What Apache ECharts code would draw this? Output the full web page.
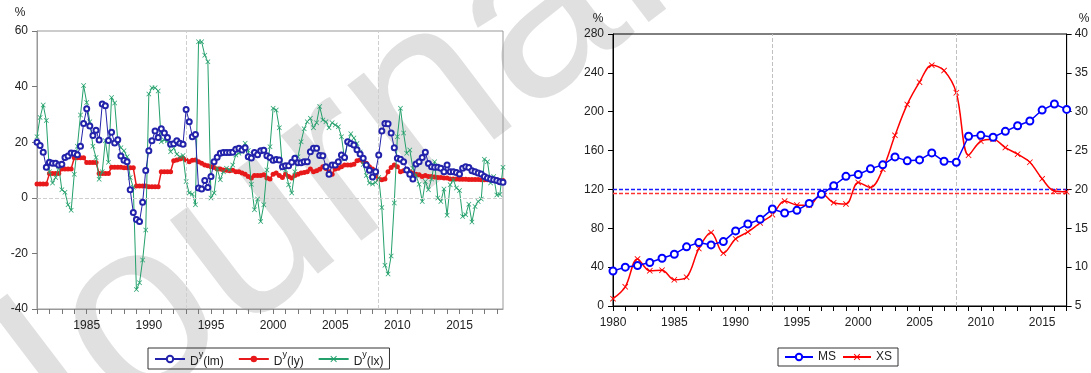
<!DOCTYPE html>
<html><head><meta charset="utf-8">
<script src="https://cdn.jsdelivr.net/npm/echarts@6/dist/echarts.min.js"></script>
<style>html,body{margin:0;padding:0;background:#fff}#c{width:1091px;height:373px}</style>
</head><body><div id="c"></div>
<script>
// ---------- Left panel: quarterly, 1981Q1 .. 2018Q3 ----------
const leftStartYear = 1981;
const leftCount = 151;
const leftTickYears = [1985, 1990, 1995, 2000, 2005, 2010, 2015];
const leftYTicks = [-40, -20, 0, 20, 40, 60];

const dyLm = [20.0,18.8,16.4,11.0,12.8,12.4,12.4,11.8,12.1,14.5,
  15.0,16.1,16.0,15.5,18.5,26.7,32.0,25.8,22.4,24.3,
  20.8,33.7,33.1,20.6,23.6,19.7,20.9,15.0,13.5,13.0,
  2.9,-5.3,-7.8,-8.5,-1.6,9.8,16.9,20.5,24.0,21.7,
  24.8,23.3,21.7,19.3,19.4,20.5,19.6,19.3,31.8,27.4,
  22.0,22.8,3.5,3.2,6.2,3.7,7.7,13.0,14.6,16.0,
  16.3,16.3,16.3,16.4,17.5,17.8,17.2,18.0,14.8,14.3,
  16.3,15.5,16.9,17.1,15.1,14.5,13.5,13.8,13.6,11.2,
  11.5,11.5,12.8,14.2,12.6,12.6,13.0,13.0,16.6,17.8,
  17.8,15.2,15.1,11.2,8.5,11.8,11.8,13.0,15.4,14.5,
  20.2,19.5,19.0,17.3,15.8,14.2,11.8,9.9,7.5,9.4,
  15.4,24.0,26.7,26.6,23.3,18.0,14.2,13.9,13.0,10.0,
  8.5,6.8,12.2,13.0,14.5,16.4,12.3,11.2,11.0,11.0,
  10.6,9.4,11.8,9.4,9.4,9.1,8.6,10.6,11.2,10.9,
  9.7,9.4,8.9,8.6,7.7,7.1,6.8,6.5,6.2,5.8,
  5.6];

const dyLy = [5.0,5.0,5.0,5.0,8.7,8.7,8.7,8.7,10.4,10.4,
  10.4,10.4,14.4,14.4,14.4,14.4,12.7,12.7,12.7,12.7,
  8.7,8.7,8.7,8.7,11.0,11.0,11.0,11.0,10.8,10.8,
  10.8,10.8,4.2,4.2,4.2,4.2,4.0,4.0,4.0,4.0,
  9.4,9.4,9.4,9.4,13.3,13.6,14.0,14.2,13.6,13.0,
  13.5,13.6,13.0,12.4,11.8,11.5,11.2,10.9,10.4,10.4,
  10.0,9.9,9.7,9.9,9.4,9.4,8.9,8.5,7.7,7.1,
  8.0,8.0,8.0,8.3,7.1,6.8,8.5,8.9,8.0,7.3,
  8.5,7.7,7.1,8.0,8.5,8.9,9.1,9.4,10.4,9.4,
  9.7,10.3,11.2,10.5,9.4,8.5,10.4,10.6,11.2,11.8,
  11.8,11.8,12.1,13.3,13.6,13.0,12.4,11.2,10.4,8.0,
  6.8,6.5,6.8,9.4,10.9,11.8,11.2,9.4,9.7,10.0,
  9.4,8.9,8.5,8.3,7.7,8.0,7.7,7.7,7.5,7.3,
  7.3,7.1,7.1,6.8,6.8,6.8,6.7,6.7,6.7,6.6,
  6.6,6.6,6.6,6.5,6.5,6.5,6.4,6.4,6.3,6.2,
  6.2];

const dyLx = [22.0,28.9,33.4,27.8,9.4,5.3,7.3,11.2,2.9,2.0,
  -2.5,-4.5,8.5,18.5,29.8,40.4,34.3,27.4,18.5,14.5,
  6.7,9.4,20.5,12.8,36.1,34.1,20.5,18.0,16.9,14.8,
  7.3,3.8,-33.0,-30.6,-22.4,-11.6,37.3,39.6,39.6,38.4,
  20.2,20.8,20.5,16.6,17.8,15.7,14.8,15.2,5.9,1.7,
  1.4,-2.5,56.1,56.1,51.3,48.9,-0.1,1.7,10.6,6.5,
  9.4,10.6,10.0,11.8,15.4,16.0,16.6,19.6,17.0,4.9,
  -4.3,-0.4,-8.5,-2.5,10.0,18.4,32.2,31.6,25.2,10.6,
  10.0,4.7,1.7,9.4,14.8,20.2,24.8,27.4,28.6,25.2,
  27.0,32.8,28.0,27.4,25.2,27.0,26.2,25.6,22.0,14.0,
  20.0,23.0,21.5,19.5,16.5,12.0,8.0,5.3,5.0,5.5,
  7.3,-3.5,-24.3,-27.4,-20.9,-1.9,22.0,32.2,23.3,16.0,
  17.2,10.6,8.0,4.9,-1.3,5.9,2.9,6.8,13.0,-0.1,
  -1.3,3.2,-6.3,4.7,6.5,3.5,2.6,-6.7,-6.1,-2.3,
  -8.7,-3.1,-1.3,-0.4,13.9,13.0,5.3,7.7,1.0,1.2,
  11.0];

// ---------- Right panel: annual, 1980 .. 2017 ----------
const rightYears = [1980,1981,1982,1983,1984,1985,1986,1987,1988,1989,
  1990,1991,1992,1993,1994,1995,1996,1997,1998,1999,
  2000,2001,2002,2003,2004,2005,2006,2007,2008,2009,
  2010,2011,2012,2013,2014,2015,2016,2017];
const msValues = [36,40,41.7,44.8,49.2,53.3,60.9,65.3,62.9,66.3,
  77.3,84.4,89.2,99.8,95.7,98.5,105.6,115,123.8,133.5,
  135.4,141.2,145.3,153.5,149.4,150.4,157.6,149,148,174.7,
  175.7,173.7,179.8,185.6,190.4,201.7,207.9,202.4];
const xsValues = [5.94,7.47,11.06,9.53,9.61,8.38,8.71,12.39,14.45,11.8,
  13.63,14.53,15.69,16.75,18.5,17.99,17.95,19.49,18.29,18.13,
  20.9,20.25,22.61,26.96,30.94,33.8,35.99,35.3,32.44,24.4,
  26.2,26.45,25.39,24.53,23.5,21.36,19.79,19.7];
const msMean = 120;
const xsMean = 19.5;
const leftAxisTicks = [0,40,80,120,160,200,240,280];
const rightAxisTicks = [5,10,15,20,25,30,35,40];

// quarterly category labels
const leftCats = [];
for (let i = 0; i < leftCount; i++) {
  leftCats.push((leftStartYear + Math.floor(i / 4)) + 'Q' + (i % 4 + 1));
}
const rightCats = rightYears.map(String);
const rFirst = rightCats[0], rLast = rightCats[rightCats.length - 1];
const lFirst = leftCats[0], lLast = leftCats[leftCats.length - 1];

const FONT = '"Liberation Sans", Arial, sans-serif';
const X_SYMBOL = 'path://M0,1L1,0L5,4L9,0L10,1L6,5L10,9L9,10L5,6L1,10L0,9L4,5Z';

const legendNames = {'Dy(lm)': ['D','y','(lm)'], 'Dy(ly)': ['D','y','(ly)'], 'Dy(lx)': ['D','y','(lx)']};

const chart = echarts.init(document.getElementById('c'), null, {renderer: 'canvas'});
chart.setOption({
  animation: false,
  backgroundColor: '#fff',
  textStyle: {fontFamily: FONT},
  graphic: [
    {type: 'text', x: -15, y: 440, rotation: 0.65, z: -10, silent: true,
     style: {text: 'Journal Pre-proof', fontSize: 250, fontFamily: FONT, fill: '#e0e0e0', align: 'left', verticalAlign: 'middle'}},
    {type: 'text', x: 20, y: 13, style: {text: '%', fontSize: 12, fontFamily: FONT, fill: '#222', align: 'center', verticalAlign: 'middle'}},
    {type: 'text', x: 598, y: 19, style: {text: '%', fontSize: 12, fontFamily: FONT, fill: '#222', align: 'center', verticalAlign: 'middle'}},
    {type: 'text', x: 1084, y: 19, style: {text: '%', fontSize: 12, fontFamily: FONT, fill: '#222', align: 'center', verticalAlign: 'middle'}}
  ],
  legend: [
    {
      data: ['Dy(lm)', 'Dy(ly)', 'Dy(lx)'],
      left: 148, top: 348,
      itemWidth: 30, itemHeight: 8, itemGap: 14,
      padding: [2, 6, 1, 6],
      borderColor: '#333', borderWidth: 1, borderRadius: 0,
      formatter: function (n) {
        const p = legendNames[n];
        return '{b|' + p[0] + '}{s|' + p[1] + '}{b|' + p[2] + '}';
      },
      textStyle: {
        color: '#222',
        rich: {
          b: {fontSize: 12, fontFamily: FONT, color: '#222', lineHeight: 18, verticalAlign: 'bottom'},
          s: {fontSize: 9, fontFamily: FONT, color: '#222', lineHeight: 18, verticalAlign: 'top'}
        }
      }
    },
    {
      data: ['MS', 'XS'],
      left: 778, top: 348,
      itemWidth: 28, itemHeight: 8, itemGap: 6,
      padding: [3, 6, 3, 6],
      borderColor: '#333', borderWidth: 1, borderRadius: 0,
      textStyle: {color: '#222', fontSize: 12, fontFamily: FONT}
    }
  ],
  grid: [
    {left: 37, top: 31, width: 466, height: 278, show: true, borderColor: '#999', borderWidth: 1, backgroundColor: 'transparent'},
    {left: 613, top: 34, width: 456, height: 272, show: true, borderColor: '#000', borderWidth: 1, backgroundColor: 'transparent'}
  ],
  xAxis: [
    {
      type: 'category', gridIndex: 0, data: leftCats, boundaryGap: false,
      axisLine: {onZero: false, lineStyle: {color: '#999'}},
      axisTick: {show: true, length: 5, lineStyle: {color: '#777'},
        interval: function (i) { return i % 4 === 0; }},
      axisLabel: {color: '#222', fontSize: 12, margin: 11,
        interval: function (i, v) { return i % 4 === 0 && leftTickYears.indexOf(+v.slice(0, 4)) >= 0; },
        formatter: function (v) { return v.slice(0, 4); }},
      splitLine: {show: false}
    },
    {
      type: 'category', gridIndex: 1, data: rightCats, boundaryGap: false,
      axisLine: {onZero: false, lineStyle: {color: '#000', width: 1}},
      axisTick: {show: true, length: 5, interval: 0, lineStyle: {color: '#000'}},
      axisLabel: {color: '#222', fontSize: 12, margin: 11, interval: 4},
      splitLine: {show: false}
    }
  ],
  yAxis: [
    {
      type: 'value', gridIndex: 0, min: leftYTicks[0], max: leftYTicks[leftYTicks.length - 1], interval: 20,
      axisLine: {show: true, lineStyle: {color: '#999'}},
      axisTick: {show: true, length: 5, lineStyle: {color: '#777'}},
      axisLabel: {color: '#222', fontSize: 12, margin: 9},
      splitLine: {show: false}
    },
    {
      type: 'value', gridIndex: 1, min: leftAxisTicks[0], max: leftAxisTicks[leftAxisTicks.length - 1], interval: 40,
      axisLine: {show: true, lineStyle: {color: '#000'}},
      axisTick: {show: true, length: 5, lineStyle: {color: '#000'}},
      axisLabel: {color: '#222', fontSize: 12, margin: 9},
      splitLine: {show: false}
    },
    {
      type: 'value', gridIndex: 1, position: 'right', min: rightAxisTicks[0], max: rightAxisTicks[rightAxisTicks.length - 1], interval: 5,
      axisLine: {show: true, lineStyle: {color: '#000'}},
      axisTick: {show: true, length: 5, lineStyle: {color: '#000'}},
      axisLabel: {color: '#222', fontSize: 12, margin: 8},
      splitLine: {show: false}
    }
  ],
  series: [
    {
      name: 'Dy(ly)', type: 'line', xAxisIndex: 0, yAxisIndex: 0, data: dyLy, z: 3,
      symbol: 'circle', symbolSize: 5, showSymbol: true, showAllSymbol: true,
      lineStyle: {color: '#e8191a', width: 1.5}, itemStyle: {color: '#e8191a'},
      markLine: {silent: true, symbol: 'none', label: {show: false},
        lineStyle: {color: '#cfcfcf', type: 'dashed', width: 1},
        emphasis: {disabled: true},
        data: [[{coord: [lFirst, 0]}, {coord: [lLast, 0]}], {xAxis: '1993Q1'}, {xAxis: '2008Q3'}]}
    },
    {
      name: 'Dy(lx)', type: 'line', xAxisIndex: 0, yAxisIndex: 0, data: dyLx, z: 4,
      symbol: X_SYMBOL, symbolSize: 5, showSymbol: true, showAllSymbol: true,
      lineStyle: {color: '#23a06b', width: 1}, itemStyle: {color: '#23a06b'}
    },
    {
      name: 'Dy(lm)', type: 'line', xAxisIndex: 0, yAxisIndex: 0, data: dyLm, z: 5,
      symbol: 'emptyCircle', symbolSize: 5, showSymbol: true, showAllSymbol: true,
      lineStyle: {color: '#2222aa', width: 1}, itemStyle: {color: '#2222aa', borderWidth: 1}
    },
    {
      name: 'MS', type: 'line', xAxisIndex: 1, yAxisIndex: 1, data: msValues, z: 5,
      symbol: 'emptyCircle', symbolSize: 7, showSymbol: true, showAllSymbol: true,
      lineStyle: {color: '#0000ff', width: 1.5}, itemStyle: {color: '#0000ff', borderWidth: 1.5},
      markLine: {silent: true, symbol: 'none', label: {show: false}, z: 1,
        lineStyle: {color: '#1a1aff', type: [4, 2], width: 1.3},
        emphasis: {disabled: true},
        data: [[{coord: [rFirst, msMean]}, {coord: [rLast, msMean]}]]}
    },
    {
      name: 'XS', type: 'line', xAxisIndex: 1, yAxisIndex: 2, data: xsValues, z: 4,
      smooth: 0.35, symbol: X_SYMBOL, symbolSize: 6, showSymbol: true, showAllSymbol: true,
      lineStyle: {color: '#ff0000', width: 1.5}, itemStyle: {color: '#ff0000'},
      markLine: {silent: true, symbol: 'none', label: {show: false}, z: 1,
        lineStyle: {color: '#ff3030', type: [4, 2], width: 1.3},
        emphasis: {disabled: true},
        data: [[{coord: [rFirst, xsMean]}, {coord: [rLast, xsMean]}]]}
    },
    {
      name: 'guides', type: 'line', xAxisIndex: 1, yAxisIndex: 1, data: [], z: 2,
      markLine: {silent: true, symbol: 'none', label: {show: false},
        lineStyle: {color: '#c0c0c0', type: 'dashed', width: 1},
        emphasis: {disabled: true},
        data: [{xAxis: '1993'}, {xAxis: '2008'}]}
    }
  ]
});
</script>
</body></html>
